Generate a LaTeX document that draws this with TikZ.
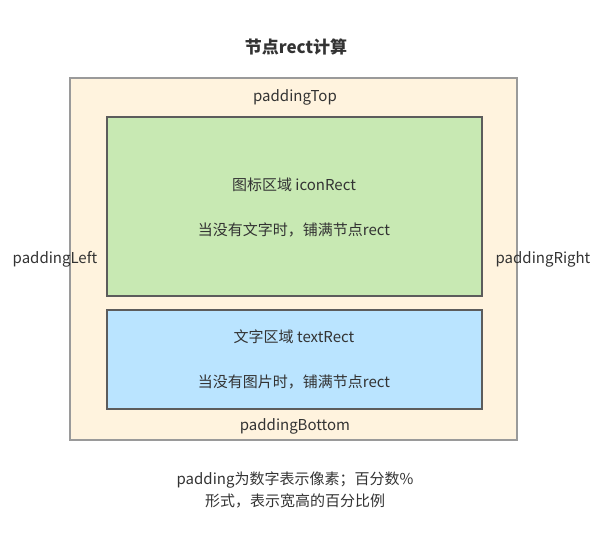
\documentclass[tikz,border=0pt]{standalone}
\usepackage{fontspec}
\setmainfont{Noto Sans CJK SC}
\usetikzlibrary{positioning}
\definecolor{padfill}{HTML}{FFF3DE}
\definecolor{padline}{HTML}{9A9A9A}
\definecolor{iconfill}{HTML}{C8E9B3}
\definecolor{textfill}{HTML}{BAE4FF}
\definecolor{boxline}{HTML}{5C5C5C}
\definecolor{txt}{HTML}{333333}

\begin{document}
\begin{tikzpicture}[x=1pt, y=-1pt,
    area/.style={draw=boxline, line width=1.2pt, inner sep=0pt},
    lbl/.style={text=txt, font=\fontsize{15}{17}\selectfont, inner sep=1pt}]
            \useasboundingbox (0,0) rectangle (606,539);
            % outer rect with padding
            \node[area, draw=padline, line width=1.8pt, fill=padfill, minimum width=447pt, minimum height=362pt] (outer) at (293.5,259) {};
            \node[area, fill=iconfill, minimum width=375pt, minimum height=179pt] (icon) at (294.5,206.5) {};
            \node[area, fill=textfill, minimum width=375pt, minimum height=99pt] (textr) at (294.5,359.5) {};
            % labels
            \node[font=\fontsize{17}{19}\selectfont\bfseries, text=txt] (title) at (296,47) {节点rect计算};
            \node[lbl] (ptop) at (295,97) {paddingTop};
            \node[lbl] (pleft) at (55,259) {paddingLeft};
            \node[lbl] (pright) at (543,259) {paddingRight};
            \node[lbl] (pbottom) at (295,426) {paddingBottom};
            \node[lbl] (iconname) at (294,185) {图标区域 iconRect};
            \node[lbl] (icondesc) at (294,230) {当没有文字时，铺满节点rect};
            \node[lbl] (textname) at (294,337) {文字区域 textRect};
            \node[lbl] (textdesc) at (294,382) {当没有图片时，铺满节点rect};
            \node[lbl, align=center, font=\fontsize{15}{22}\selectfont] (note) at (295,490) {padding为数字表示像素；百分数\%\\形式，表示宽高的百分比例};
        \end{tikzpicture}
\end{document}
